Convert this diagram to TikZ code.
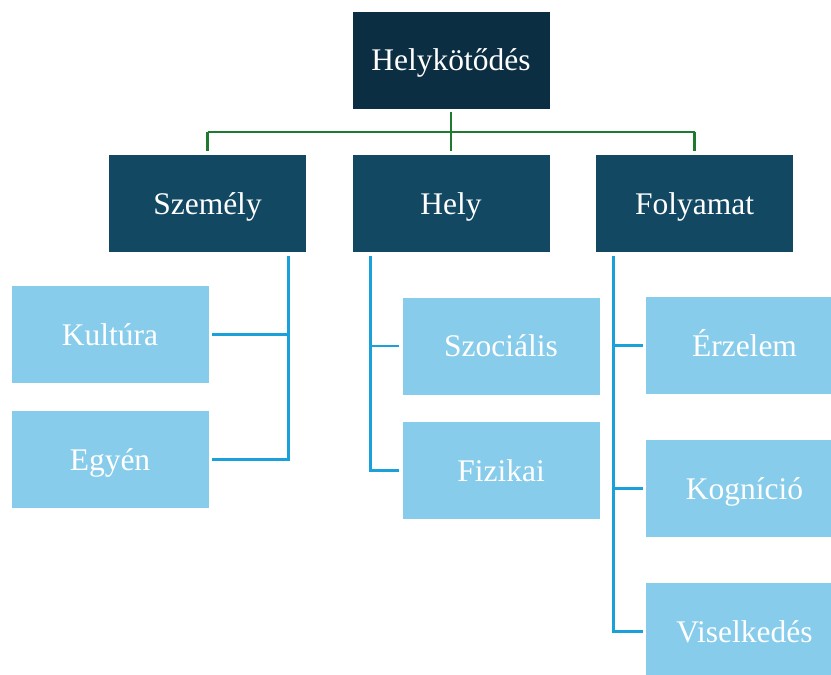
\documentclass[tikz,border=0pt]{standalone}
\usepackage{fontspec}
\setmainfont{Liberation Serif}
\definecolor{topc}{HTML}{0C2E43}
\definecolor{midc}{HTML}{124862}
\definecolor{leafc}{HTML}{87CCEB}
\definecolor{bluel}{HTML}{1BA1DA}
\definecolor{greenl}{HTML}{1F7A30}
\tikzset{
  box/.style={rectangle, inner sep=0pt, minimum width=197pt, minimum height=97pt,
    text=white, font=\fontsize{31.5}{36}\selectfont, text height=28.1pt, text depth=6.8pt},
  topbox/.style={box, fill=topc},
  midbox/.style={box, fill=midc},
  leafbox/.style={box, fill=leafc},
  gline/.style={draw=greenl, line width=2.8pt},
  bline/.style={draw=bluel, line width=2.7pt},
}
\begin{document}
\begin{tikzpicture}[x=1pt,y=-1pt]
\useasboundingbox (0,0) rectangle (831,675);
\clip (0,0) rectangle (831,675);
\node[topbox] (top) at (451,60) {Helykötődés};
\node[midbox] (szemely) at (207.5,203.5) {Személy};
\node[midbox] (hely) at (451,203.5) {Hely};
\node[midbox] (folyamat) at (694.5,203.5) {Folyamat};
\node[leafbox] (kultura) at (110,334.5) {Kultúra};
\node[leafbox] (egyen) at (110,459.5) {Egyén};
\node[leafbox] (szocialis) at (501,346) {Szociális};
\node[leafbox] (fizikai) at (501,470.5) {Fizikai};
\node[leafbox] (erzelem) at (744.5,345.5) {Érzelem};
\node[leafbox] (kognicio) at (744.5,488.5) {Kogníció};
\node[leafbox] (viselkedes) at (744.5,631.5) {Viselkedés};
% green tree connectors
\coordinate (gbus) at (451,132);
\draw[gline, shorten <=3.5pt] (top.south) -- (gbus);
\draw[gline] (szemely.north |- gbus) -- (folyamat.north |- gbus);
\draw[gline, shorten >=3.5pt] (szemely.north |- gbus) -- (szemely.north);
\draw[gline, shorten >=3.5pt] (gbus) -- (hely.north);
\draw[gline, shorten >=3.5pt] (folyamat.north |- gbus) -- (folyamat.north);
% blue connectors
\coordinate (sv) at ([xshift=-18pt]szemely.south east);
\coordinate (hv) at ([xshift=18pt]hely.south west);
\coordinate (fv) at ([xshift=18pt]folyamat.south west);
\draw[bline, shorten <=4pt, shorten >=3pt] (sv) |- (egyen.east);
\draw[bline, shorten >=3pt] (sv |- kultura.east) -- (kultura.east);
\draw[bline, shorten <=4pt, shorten >=3pt] (hv) |- (fizikai.west);
\draw[bline, shorten >=3pt] (hv |- szocialis.west) -- (szocialis.west);
\draw[bline, shorten <=4pt, shorten >=3pt] (fv) |- (viselkedes.west);
\draw[bline, shorten >=3pt] (fv |- erzelem.west) -- (erzelem.west);
\draw[bline, shorten >=3pt] (fv |- kognicio.west) -- (kognicio.west);
\end{tikzpicture}
\end{document}
